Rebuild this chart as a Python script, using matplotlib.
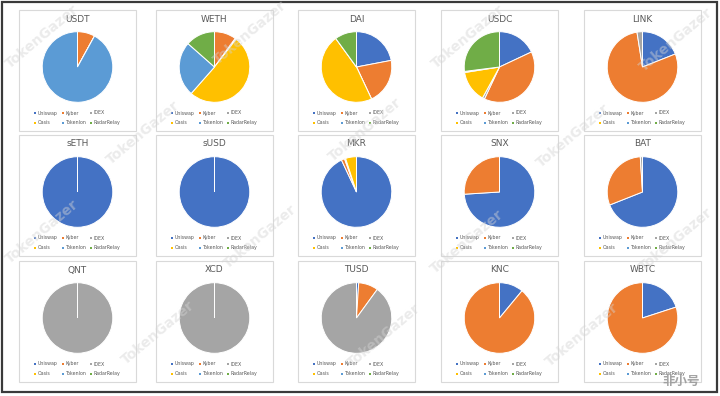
import matplotlib
matplotlib.use("Agg")
import matplotlib.pyplot as plt
from matplotlib.patches import Rectangle

plt.rcParams["font.family"] = ["DejaVu Sans"]

# --- data ---------------------------------------------------------------
TOKENS = ["USDT", "WETH", "DAI", "USDC", "LINK",
          "sETH", "sUSD", "MKR", "SNX", "BAT",
          "QNT", "XCD", "TUSD", "KNC", "WBTC"]
EXCHANGES = ["Uniswap", "Kyber", "IDEX", "Oasis", "Tokenlon", "RadarRelay"]

# share (%) of each token's volume per exchange
uniswap    = [0,   0,    22, 18,   19,   100, 100, 93,  74, 69, 0,   0,   1,  11, 20]
kyber      = [8,   10,   21, 39,   78.5, 0,   0,   1.5, 26, 30, 0,   0,   9,  89, 80]
idex       = [0,   0.5,  0,  1,    2.5,  0,   0,   0.5, 0,  1,  100, 100, 90, 0,  0]
oasis      = [0,   51,   47, 14.5, 0,    0,   0,   5,   0,  0,  0,   0,   0,  0,  0]
tokenlon   = [92,  25,   0,  0.5,  0,    0,   0,   0,   0,  0,  0,   0,   0,  0,  0]
radarrelay = [0,   13.5, 10, 27,   0,    0,   0,   0,   0,  0,  0,   0,   0,  0,  0]

COLORS = ["#4472C4", "#ED7D31", "#A5A5A5", "#FFC000", "#5B9BD5", "#70AD47"]
TXT = "#595959"

W, H = 720, 396
fig = plt.figure(figsize=(W / 100, H / 100), dpi=100)
fig.patch.set_facecolor("white")

bg = fig.add_axes([0, 0, 1, 1], zorder=0)
bg.set_xlim(0, W); bg.set_ylim(H, 0); bg.axis("off")

# outer frame
bg.add_patch(Rectangle((2, 2), 715, 390, fill=False, ec="#3a3a3a", lw=1.6))

panel_x = [19, 156, 298, 441, 584]
panel_y = [10, 135, 261]
PW, PH = 117, 121
R = 36

series = [uniswap, kyber, idex, oasis, tokenlon, radarrelay]

for k, tok in enumerate(TOKENS):
    row, col = divmod(k, 5)
    x0, y0 = panel_x[col], panel_y[row]
    bg.add_patch(Rectangle((x0, y0), PW, PH, fill=False, ec="#d9d9d9", lw=0.8))
    bg.text(x0 + PW / 2, y0 + 9, tok, ha="center", va="center", fontsize=6.5, color=TXT)

    cx, cy = x0 + PW / 2, y0 + 57
    ax = fig.add_axes([(cx - R) / W, 1 - (cy + R) / H, 2 * R / W, 2 * R / H], zorder=1)
    vals = [s[k] for s in series]
    ax.pie(vals, colors=COLORS, startangle=90, counterclock=False, radius=1,
           wedgeprops=dict(edgecolor="white", linewidth=0.7))
    ax.set_xlim(-1.02, 1.02); ax.set_ylim(-1.02, 1.02)
    ax.set_aspect("equal")

    # legend, 3 columns x 2 rows
    for i, name in enumerate(EXCHANGES):
        r, c = divmod(i, 3)
        lx = x0 + 16 + c * 28
        ly = y0 + 103 + r * 9.5
        bg.plot(lx, ly, "s", ms=1.8, color=COLORS[i], mew=0)
        bg.text(lx + 2.5, ly, name, ha="left", va="center", fontsize=3.4, color=TXT)

# watermarks on top
top = fig.add_axes([0, 0, 1, 1], zorder=5)
top.set_xlim(0, W); top.set_ylim(H, 0); top.axis("off")
top.patch.set_alpha(0)
wm = [(42, 37), (250, 33), (468, 37), (676, 40),
      (143, 133), (365, 130), (573, 136),
      (42, 232), (260, 237), (467, 242), (676, 240),
      (158, 333), (384, 336), (582, 335)]
for (x, y) in wm:
    top.text(x, y, "TokenGazer", rotation=40, ha="center", va="center",
             fontsize=10, fontweight="bold", color="#d4d4d4", alpha=0.45)

top.text(700, 381, "非小号", ha="right", va="center", fontsize=9, fontweight="bold",
         color="#9a9a9a", family=["Noto Sans CJK SC", "DejaVu Sans"], alpha=0.9)

fig.savefig("out.png", dpi=100)
